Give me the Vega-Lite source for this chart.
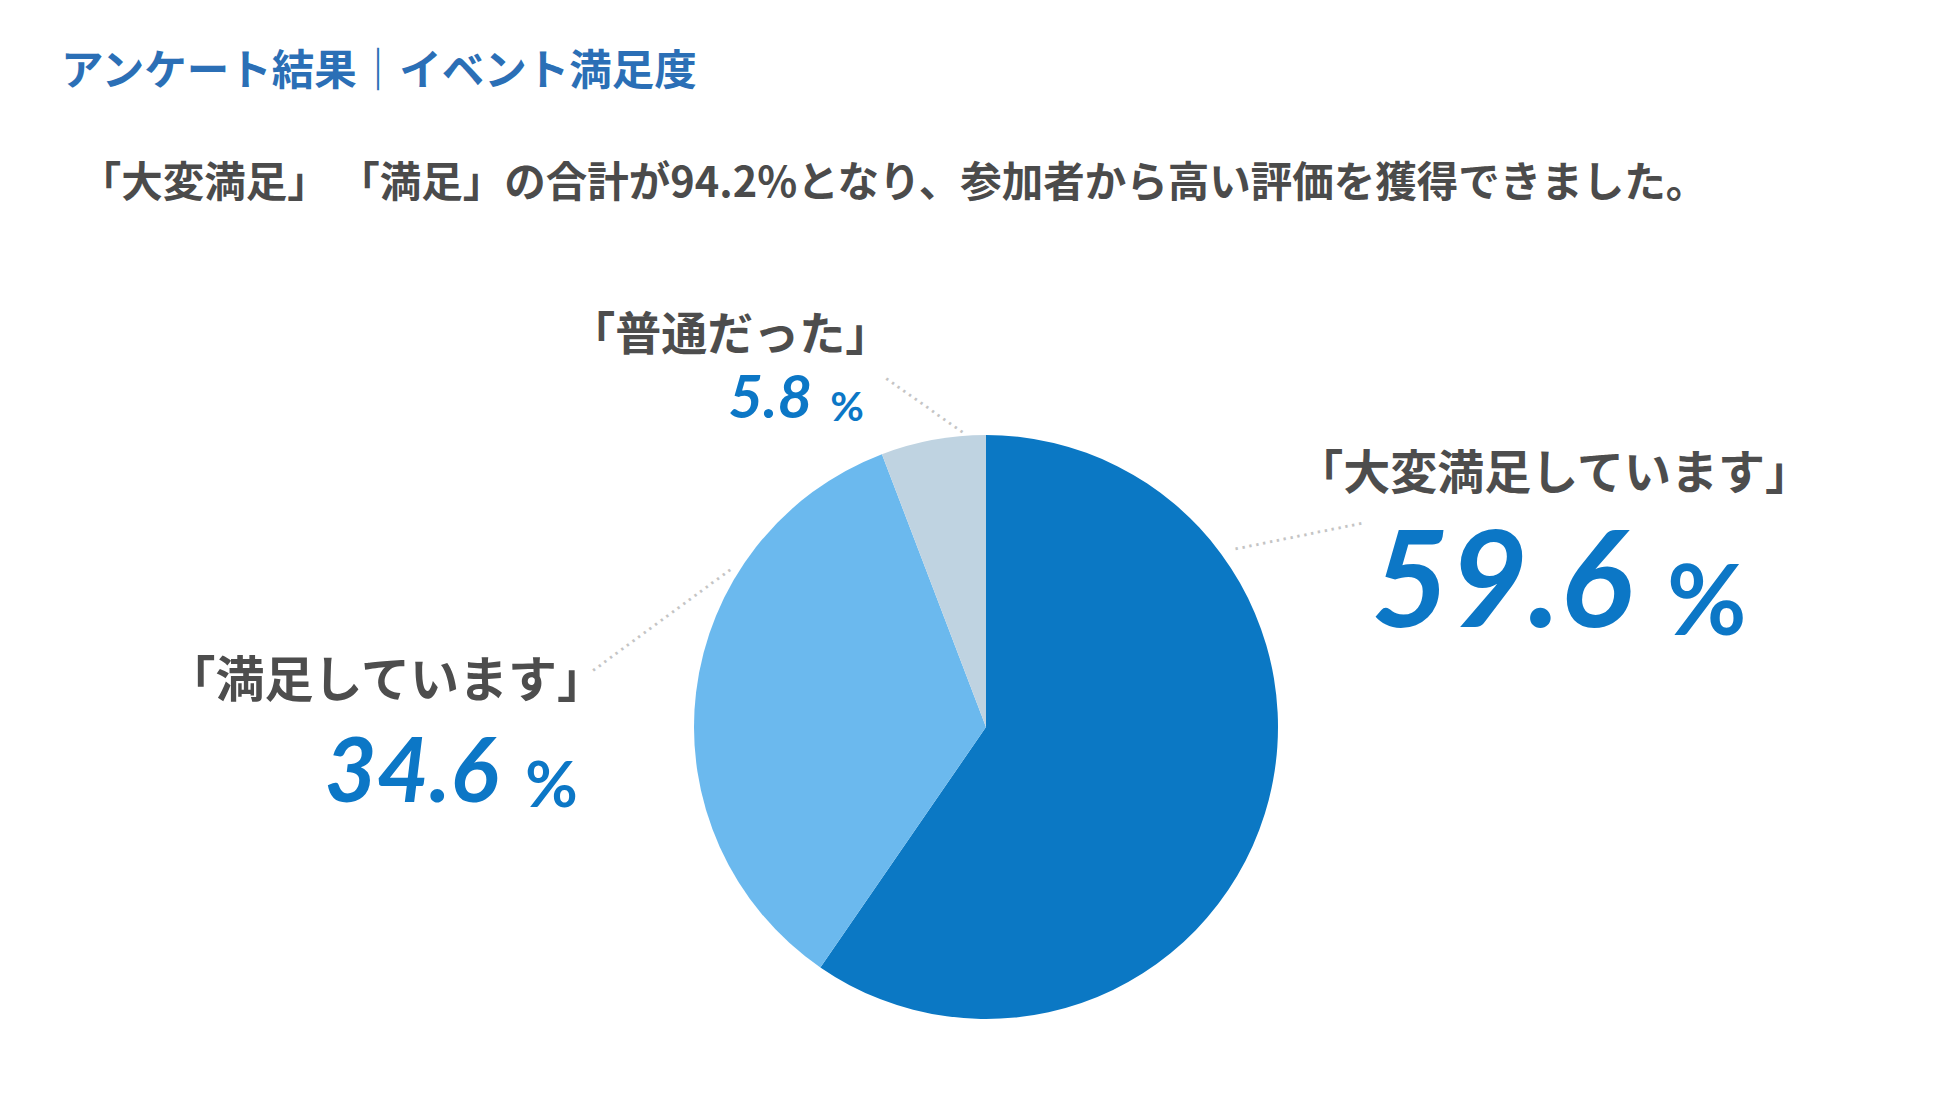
{
  "$schema": "https://vega.github.io/schema/vega-lite/v6.json",
  "width": 1928,
  "height": 740,
  "autosize": {"type": "none"},
  "padding": {"left": 22, "top": 357, "right": 0, "bottom": 0},
  "background": "white",
  "title": {
    "text": "アンケート結果｜イベント満足度",
    "subtitle": "\u200b\u00a0\u00a0「大変満足」 「満足」の合計が94.2%となり、参加者から高い評価を獲得できました。",
    "anchor": "start",
    "frame": "group",
    "dx": 39,
    "offset": 108,
    "subtitlePadding": 70,
    "font": "Noto Sans CJK JP",
    "fontSize": 42.5,
    "fontWeight": "bold",
    "color": "#2B6FB6",
    "subtitleFont": "Noto Sans CJK JP",
    "subtitleFontSize": 41.5,
    "subtitleFontWeight": "bold",
    "subtitleColor": "#4b4b4b"
  },
  "config": {
    "view": {"stroke": null},
    "font": "Noto Sans CJK JP"
  },
  "data": {
    "values": [
      {"category": "大変満足", "label": "「大変満足しています」", "value": 59.6, "order": 1},
      {"category": "満足", "label": "「満足しています」", "value": 34.6, "order": 2},
      {"category": "普通", "label": "「普通だった」", "value": 5.8, "order": 3}
    ]
  },
  "transform": [
    {"stack": "value", "groupby": [], "sort": [{"field": "order", "order": "ascending"}], "as": ["v0", "v1"]},
    {"calculate": "(datum.v0 + datum.v1) / 2", "as": "mid"}
  ],
  "layer": [
    {
      "mark": {"type": "arc", "outerRadius": 292},
      "encoding": {
        "theta": {"field": "v0", "type": "quantitative", "scale": {"domain": [0, 100]}},
        "theta2": {"field": "v1"},
        "color": {
          "field": "category",
          "type": "nominal",
          "scale": {"domain": ["大変満足", "満足", "普通"], "range": ["#0B78C4", "#6BB9EE", "#BFD3E1"]},
          "legend": null
        }
      }
    },
    {
      "transform": [{"filter": "datum.category === '普通'"}],
      "mark": {"type": "text", "radius": 327, "angle": 35.2, "dx": -2, "dy": 2, "align": "center", "baseline": "middle", "font": "DejaVu Sans", "fontSize": 22, "color": "#c4c4c4", "text": "··············"},
      "encoding": {"theta": {"field": "mid", "type": "quantitative"}}
    },
    {
      "transform": [{"filter": "datum.category === '大変満足'"}],
      "mark": {"type": "text", "radius": 330, "angle": 348.5, "dx": 55, "dy": -283, "align": "center", "baseline": "middle", "font": "DejaVu Sans", "fontSize": 22, "color": "#c4c4c4", "text": "···················"},
      "encoding": {"theta": {"field": "mid", "type": "quantitative"}}
    },
    {
      "transform": [{"filter": "datum.category === '満足'"}],
      "mark": {"type": "text", "radius": 340, "angle": 323.7, "dx": 50, "dy": -45, "align": "center", "baseline": "middle", "font": "DejaVu Sans", "fontSize": 22, "color": "#c4c4c4", "text": "·························"},
      "encoding": {"theta": {"field": "mid", "type": "quantitative"}}
    },
    {
      "transform": [{"filter": "datum.category === '大変満足'"}],
      "mark": {"type": "text", "radius": 330, "dx": 253, "dy": -336, "align": "center", "baseline": "alphabetic", "font": "Noto Sans CJK JP", "fontSize": 47, "fontWeight": "bold", "color": "#4d4d4d"},
      "encoding": {"theta": {"field": "mid", "type": "quantitative"}, "text": {"field": "label"}}
    },
    {
      "transform": [{"filter": "datum.category === '満足'"}],
      "mark": {"type": "text", "radius": 330, "dx": -272, "dy": 9, "align": "center", "baseline": "alphabetic", "font": "Noto Sans CJK JP", "fontSize": 49, "fontWeight": "bold", "color": "#4d4d4d"},
      "encoding": {"theta": {"field": "mid", "type": "quantitative"}, "text": {"field": "label"}}
    },
    {
      "transform": [{"filter": "datum.category === '普通'"}],
      "mark": {"type": "text", "radius": 330, "dx": -196, "dy": -52, "align": "center", "baseline": "alphabetic", "font": "Noto Sans CJK JP", "fontSize": 46, "fontWeight": "bold", "color": "#4d4d4d"},
      "encoding": {"theta": {"field": "mid", "type": "quantitative"}, "text": {"field": "label"}}
    },
    {
      "transform": [{"filter": "datum.category === '大変満足'"}],
      "mark": {"type": "text", "radius": 330, "dx": 331, "dy": -198, "align": "right", "baseline": "alphabetic", "font": "Lato", "fontSize": 135, "fontWeight": "bold", "fontStyle": "italic", "color": "#0C77C6"},
      "encoding": {"theta": {"field": "mid", "type": "quantitative"}, "text": {"field": "value", "type": "quantitative", "format": ".1f"}}
    },
    {
      "transform": [{"filter": "datum.category === '満足'"}],
      "mark": {"type": "text", "radius": 330, "dx": -160, "dy": 114, "align": "right", "baseline": "alphabetic", "font": "Lato", "fontSize": 90, "fontWeight": "bold", "fontStyle": "italic", "color": "#0C77C6"},
      "encoding": {"theta": {"field": "mid", "type": "quantitative"}, "text": {"field": "value", "type": "quantitative", "format": ".1f"}}
    },
    {
      "transform": [{"filter": "datum.category === '普通'"}],
      "mark": {"type": "text", "radius": 330, "dx": -114, "dy": 16, "align": "right", "baseline": "alphabetic", "font": "Lato", "fontSize": 60, "fontWeight": "bold", "fontStyle": "italic", "color": "#0C77C6"},
      "encoding": {"theta": {"field": "mid", "type": "quantitative"}, "text": {"field": "value", "type": "quantitative", "format": ".1f"}}
    },
    {
      "transform": [{"filter": "datum.category === '大変満足'"}],
      "mark": {"type": "text", "radius": 330, "dx": 366, "dy": -190, "align": "left", "baseline": "alphabetic", "font": "Lato", "fontSize": 97, "fontWeight": "bold", "color": "#0C77C6", "text": "%"},
      "encoding": {"theta": {"field": "mid", "type": "quantitative"}}
    },
    {
      "transform": [{"filter": "datum.category === '満足'"}],
      "mark": {"type": "text", "radius": 330, "dx": -133, "dy": 119, "align": "left", "baseline": "alphabetic", "font": "Lato", "fontSize": 64, "fontWeight": "bold", "color": "#0C77C6", "text": "%"},
      "encoding": {"theta": {"field": "mid", "type": "quantitative"}}
    },
    {
      "transform": [{"filter": "datum.category === '普通'"}],
      "mark": {"type": "text", "radius": 330, "dx": -96, "dy": 19, "align": "left", "baseline": "alphabetic", "font": "Lato", "fontSize": 41, "fontWeight": "bold", "color": "#0C77C6", "text": "%"},
      "encoding": {"theta": {"field": "mid", "type": "quantitative"}}
    }
  ]
}
